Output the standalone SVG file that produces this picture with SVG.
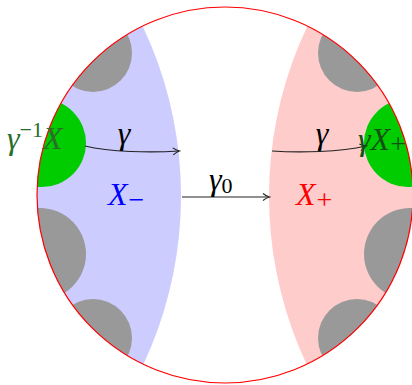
<svg xmlns="http://www.w3.org/2000/svg" width="412" height="385" viewBox="0 0 412 385">
<style>
.m{font-family:'Liberation Serif','DejaVu Serif',serif;font-style:italic;font-size:32px}
.s{font-style:normal;font-size:22px}
.pm{font-style:normal;font-size:28px}
.c{fill:none;stroke:#222;stroke-width:1.2}
</style>
<defs>
<clipPath id="disk"><circle cx="225" cy="195" r="188"/></clipPath>
<marker id="ah" markerWidth="10" markerHeight="10" refX="8" refY="5" orient="auto" markerUnits="userSpaceOnUse">
<path d="M2,1.5 Q5,4 8.5,5 Q5,6 2,8.5" fill="none" stroke="#222" stroke-width="1.1"/>
</marker>
</defs>
<g id="disk-bg"><circle cx="225" cy="195" r="188" fill="#fff"/></g>
<g id="regions" clip-path="url(#disk)">
<circle id="Xminus-region" cx="-214" cy="196" r="395" fill="#ccccff"/>
<circle id="Xplus-region" cx="664" cy="196" r="395" fill="#ffcccc"/>
<circle cx="93" cy="53" r="39" fill="#999"/>
<circle cx="40" cy="254" r="46" fill="#999"/>
<circle cx="93" cy="338" r="39" fill="#999"/>
<circle cx="357" cy="53" r="39" fill="#999"/>
<circle cx="410" cy="254" r="46" fill="#999"/>
<circle cx="357" cy="338" r="39" fill="#999"/>
<circle id="green-left" cx="42" cy="143" r="44" fill="#00cc00"/>
<circle id="green-right" cx="408" cy="143" r="44" fill="#00cc00"/>
</g>
<g id="boundary"><circle cx="225" cy="195" r="188" fill="none" stroke="#ff0000" stroke-width="1.2"/></g>
<g id="connectors">
<path class="c" d="M85,146 C110,152 150,153 179,151" marker-end="url(#ah)"/>
<path class="c" d="M272,151 C300,153 340,152 366,146" marker-end="url(#ah)"/>
<path class="c" d="M182,197 L269,197" marker-end="url(#ah)"/>
</g>
<g id="labels">
<text class="m" x="124" y="144" text-anchor="middle">γ</text>
<text class="m" x="322" y="144" text-anchor="middle">γ</text>
<text class="m" x="209" y="190">γ<tspan class="s" dy="3">0</tspan></text>
<text class="m" x="108" y="205" fill="#0000ff">X<tspan class="pm" dx="1" dy="4">−</tspan></text>
<text class="m" x="296" y="205" fill="#ff0000">X<tspan class="pm" dx="1" dy="4">+</tspan></text>
<text class="m" x="7" y="149" fill="#2a6e2a">γ<tspan class="s" dy="-12">−1</tspan><tspan dy="12">X</tspan></text>
<text class="m" x="358" y="150" fill="#145214">γX<tspan class="pm" dy="3">+</tspan></text>
</g>
</svg>
